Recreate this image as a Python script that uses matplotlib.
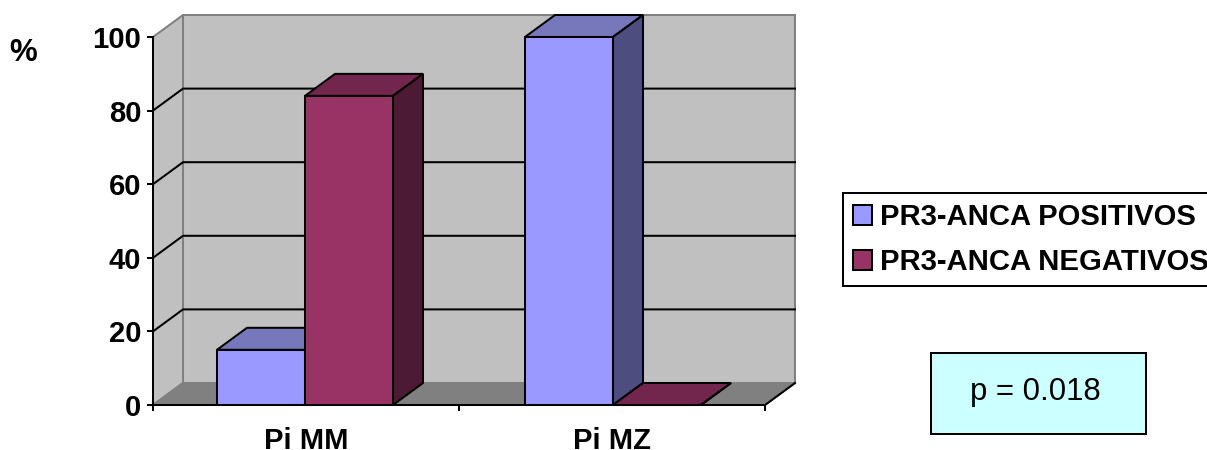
import matplotlib
matplotlib.use("Agg")
import matplotlib.pyplot as plt
from matplotlib.patches import Polygon, Patch, Rectangle

categories = ["Pi MM", "Pi MZ"]
positivos = [15, 100]
negativos = [84, 0]
y_ticks = [0, 20, 40, 60, 80, 100]
series_labels = ["PR3-ANCA POSITIVOS", "PR3-ANCA NEGATIVOS"]
note = "p = 0.018"

W, H = 1207, 450
plt.rcParams["font.family"] = ["Liberation Sans", "DejaVu Sans"]
FS = 21.1
LW = 1.45

fig = plt.figure(figsize=(W / 100, H / 100), dpi=100, facecolor="white")
ax = fig.add_axes([153 / W, 1 - 405 / H, 612 / W, 368 / H])
ax.set_xlim(-0.5, 1.5)
ax.set_ylim(0, 100)
ax.patch.set_visible(False)

# depth of the 3-D box, in data units
DX = 30 / 306
DY = 22 / 3.68
BAR_W = 88 / 306
x0, x1 = ax.get_xlim()
y0, y1 = ax.get_ylim()


def poly(pts, fc, ec, z, lw=LW):
    ax.add_patch(Polygon(pts, closed=True, facecolor=fc, edgecolor=ec,
                         linewidth=lw, zorder=z, clip_on=False, joinstyle="miter"))


WALL = "#C0C0C0"
FLOOR = "#808080"
GREY = "#808080"
poly([(x0 + DX, y0 + DY), (x1 + DX, y0 + DY), (x1 + DX, y1 + DY), (x0 + DX, y1 + DY)], WALL, GREY, 1)
poly([(x0, y0), (x0 + DX, y0 + DY), (x0 + DX, y1 + DY), (x0, y1)], WALL, GREY, 1)
poly([(x0, y0), (x1, y0), (x1 + DX, y0 + DY), (x0 + DX, y0 + DY)], FLOOR, GREY, 1)
ax.plot([x1, x1 + DX], [y0, y0 + DY], color="black", lw=LW, zorder=2, clip_on=False)

for t in y_ticks[1:-1]:
    ax.plot([x0, x0 + DX, x1 + DX], [t, t + DY, t + DY], color="black", lw=LW,
            zorder=2, clip_on=False)


def bar3d(left, value, front, top, side, z):
    right = left + BAR_W
    poly([(left, value), (right, value), (right + DX, value + DY), (left + DX, value + DY)], top, "black", z)
    poly([(right, 0), (right + DX, DY), (right + DX, value + DY), (right, value)], side, "black", z)
    ax.bar([left], [value], width=BAR_W, align="edge", color=front, edgecolor="black",
           linewidth=LW, zorder=z, clip_on=False)


centres = [-1 / 306, 1 + 1 / 306]
for i, c in enumerate(centres):
    bar3d(c - BAR_W, positivos[i], "#9999FF", "#7777BB", "#4D4D80", 3 + i * 2)
    bar3d(c, negativos[i], "#993366", "#73264D", "#4D1A33", 4 + i * 2)

for s in ["top", "right"]:
    ax.spines[s].set_visible(False)
for s in ["left", "bottom"]:
    ax.spines[s].set_linewidth(LW)
    ax.spines[s].set_zorder(10)

ax.set_yticks(y_ticks)
ax.set_yticklabels([str(t) for t in y_ticks], fontsize=FS, fontweight="bold")
ax.tick_params(axis="y", length=4.5, width=LW, pad=4)
ax.set_xticks([-0.5, 0.5, 1.5])
ax.set_xticklabels([])
ax.tick_params(axis="x", which="major", length=4.5, width=LW)
ax.set_xticks([0, 1], minor=True)
ax.set_xticklabels(categories, minor=True, fontsize=FS, fontweight="bold")
ax.tick_params(axis="x", which="minor", length=0, pad=15.5)

fig.text(23.5 / W, 1 - 53 / H, "%", fontsize=22.5, fontweight="bold", ha="center", va="center")

handles = [Patch(facecolor="#9999FF", edgecolor="black", linewidth=LW),
           Patch(facecolor="#993366", edgecolor="black", linewidth=LW)]
leg = fig.legend(handles, series_labels, loc="upper left",
                 bbox_to_anchor=(843 / W, 1 - 193 / H), bbox_transform=fig.transFigure,
                 borderaxespad=0, fancybox=False, framealpha=1, edgecolor="black",
                 prop={"size": FS, "weight": "bold"}, handlelength=0.66, handleheight=0.68,
                 handletextpad=0.27, labelspacing=0.59, borderpad=0.34)
leg.get_frame().set_linewidth(LW)

fig.add_artist(Rectangle((931 / W, 1 - 434 / H), 215 / W, 81 / H, transform=fig.transFigure,
                         facecolor="#CCFFFF", edgecolor="black", linewidth=LW))
fig.text(1035 / W, 1 - 392 / H, note, fontsize=22.4, ha="center", va="center")

fig.savefig("out.png", dpi=100)
